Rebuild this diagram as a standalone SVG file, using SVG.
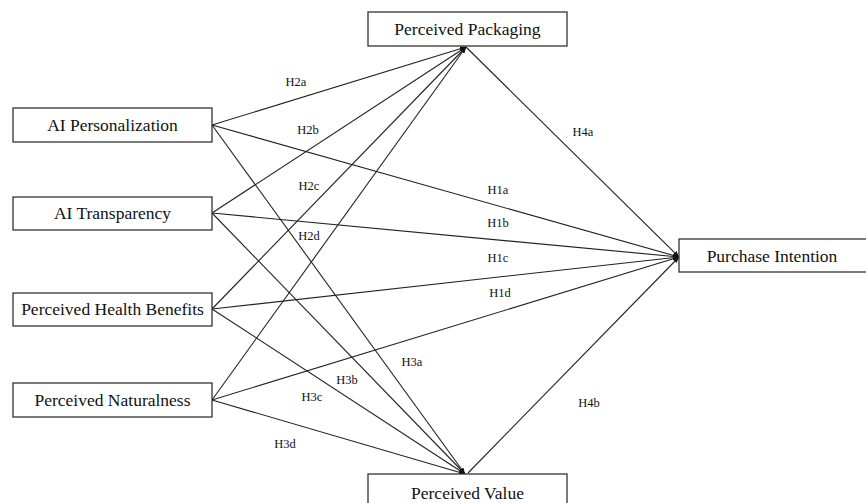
<svg xmlns="http://www.w3.org/2000/svg" width="866" height="503" viewBox="0 0 866 503">
<defs>
<style>
.box{fill:#fff;stroke:#333;stroke-width:1.3}
.nt{font-family:"Liberation Serif","Times New Roman",serif;font-size:17.5px;fill:#111;text-anchor:middle}
.lb{font-family:"Liberation Serif","Times New Roman",serif;font-size:12.5px;fill:#111;text-anchor:middle}
.ln{stroke:#222;stroke-width:1.1;fill:none;marker-end:url(#ah)}
</style>
<marker id="ah" markerUnits="userSpaceOnUse" markerWidth="7" markerHeight="7" refX="6" refY="3.5" orient="auto">
<path d="M0,1 L6,3.5 L0,6 Z" fill="#111"/>
</marker>
</defs>
<rect width="866" height="503" fill="#fff"/>
<g id="connectors">
<line class="ln" x1="212" y1="125" x2="466" y2="47"/>
<line class="ln" x1="212" y1="125" x2="679" y2="257"/>
<line class="ln" x1="212" y1="125" x2="465" y2="474"/>
<line class="ln" x1="212" y1="213" x2="466" y2="47"/>
<line class="ln" x1="212" y1="213" x2="679" y2="257"/>
<line class="ln" x1="212" y1="213" x2="465" y2="474"/>
<line class="ln" x1="212" y1="309" x2="466" y2="47"/>
<line class="ln" x1="212" y1="309" x2="679" y2="257"/>
<line class="ln" x1="212" y1="309" x2="465" y2="474"/>
<line class="ln" x1="212" y1="400" x2="466" y2="47"/>
<line class="ln" x1="212" y1="400" x2="679" y2="257"/>
<line class="ln" x1="212" y1="400" x2="465" y2="474"/>
<line class="ln" x1="466" y1="47" x2="679" y2="257"/>
<line class="ln" x1="468" y1="473" x2="679" y2="257"/>
</g>
<g id="labels">
<text class="lb" x="296" y="86">H2a</text>
<text class="lb" x="308" y="134">H2b</text>
<text class="lb" x="309" y="190">H2c</text>
<text class="lb" x="309" y="240">H2d</text>
<text class="lb" x="498" y="194">H1a</text>
<text class="lb" x="498" y="227">H1b</text>
<text class="lb" x="498" y="262">H1c</text>
<text class="lb" x="500" y="297">H1d</text>
<text class="lb" x="412" y="366">H3a</text>
<text class="lb" x="347" y="384">H3b</text>
<text class="lb" x="312" y="401">H3c</text>
<text class="lb" x="285" y="448">H3d</text>
<text class="lb" x="583" y="136">H4a</text>
<text class="lb" x="589" y="407">H4b</text>
</g>
<g id="node-ai-personalization">
<rect class="box" x="13" y="108" width="199" height="34"/>
<text class="nt" x="112.5" y="131">AI Personalization</text>
</g>
<g id="node-ai-transparency">
<rect class="box" x="13" y="197" width="199" height="33"/>
<text class="nt" x="112.5" y="219">AI Transparency</text>
</g>
<g id="node-perceived-health-benefits">
<rect class="box" x="13" y="293" width="199" height="33"/>
<text class="nt" x="112.5" y="315">Perceived Health Benefits</text>
</g>
<g id="node-perceived-naturalness">
<rect class="box" x="13" y="383" width="199" height="34"/>
<text class="nt" x="112.5" y="406">Perceived Naturalness</text>
</g>
<g id="node-perceived-packaging">
<rect class="box" x="368" y="12" width="199" height="34"/>
<text class="nt" x="467.5" y="35">Perceived Packaging</text>
</g>
<g id="node-perceived-value">
<rect class="box" x="368" y="474" width="199" height="40"/>
<text class="nt" x="467.5" y="499">Perceived Value</text>
</g>
<g id="node-purchase-intention">
<rect class="box" x="679" y="239" width="190" height="33"/>
<text class="nt" x="772" y="262">Purchase Intention</text>
</g>
</svg>
